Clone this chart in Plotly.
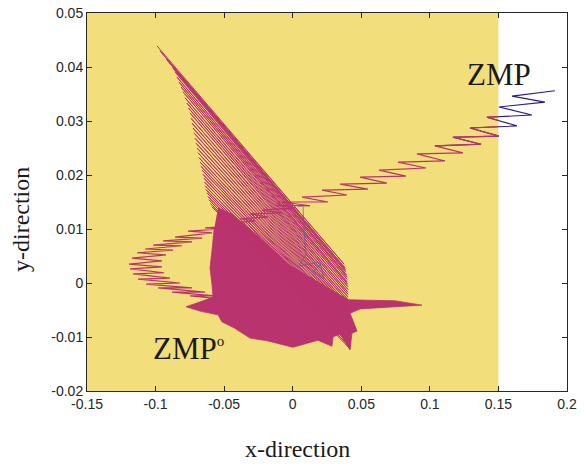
import plotly.graph_objects as go

# ---------------- data ----------------
# support polygon (yellow)
support_x = [-0.15, 0.15, 0.15, -0.15]
support_y = [-0.02, -0.02, 0.05, 0.05]

# main ZMP zigzag trajectory (from inside the dense area, around the C loop, out to upper right)
zmp_x = [-0.0457, -0.0749, -0.0566, -0.0880, -0.0639, -0.0982, -0.0734, -0.1069, -0.0822,
         -0.1128, -0.0895, -0.1164, -0.0938, -0.1186, -0.0953, -0.1193, -0.0953, -0.1172,
         -0.0924, -0.1135, -0.0873, -0.1077, -0.0807, -0.1018, -0.0734, -0.0946, -0.0661,
         -0.0858, -0.0588, -0.0763, -0.0515, -0.0639, -0.0384, -0.0515, -0.0275, -0.0384,
         -0.0180, -0.0311, -0.0071, -0.0224, 0.0017, -0.0122, 0.0126, -0.0071, 0.0257,
         0.0068, 0.0396, 0.0214, 0.0549, 0.0345, 0.0687, 0.0491, 0.0826, 0.0629, 0.0972,
         0.0768, 0.1110, 0.0906, 0.1241, 0.1037, 0.1373, 0.1168, 0.1504, 0.1293, 0.1635,
         0.1416, 0.1744, 0.1504, 0.1839, 0.1599, 0.1912]
zmp_y = [-0.0031, -0.0024, -0.0024, -0.0017, -0.0017, -0.0009, -0.0009, -0.0002, 0.0000,
         0.0007, 0.0009, 0.0017, 0.0019, 0.0026, 0.0030, 0.0035, 0.0041, 0.0046,
         0.0052, 0.0056, 0.0061, 0.0063, 0.0069, 0.0070, 0.0076, 0.0078, 0.0083,
         0.0085, 0.0093, 0.0096, 0.0100, 0.0102, 0.0106, 0.0109, 0.0115, 0.0119,
         0.0122, 0.0128, 0.0130, 0.0135, 0.0139, 0.0144, 0.0143, 0.0150, 0.0150,
         0.0159, 0.0163, 0.0172, 0.0174, 0.0183, 0.0185, 0.0196, 0.0198, 0.0209, 0.0213,
         0.0224, 0.0226, 0.0239, 0.0241, 0.0254, 0.0257, 0.0270, 0.0272, 0.0287, 0.0291,
         0.0307, 0.0311, 0.0326, 0.0335, 0.0346, 0.0356]

# fan of long strokes (alternating upper-left and lower-right turning points)
fan_left_x = [-0.0989, -0.0968, -0.0946, -0.0920, -0.0895, -0.0876, -0.0858, -0.0843, -0.0829,
              -0.0814, -0.0800, -0.0785, -0.0771, -0.0760, -0.0749, -0.0741, -0.0734, -0.0727,
              -0.0720, -0.0712, -0.0705, -0.0698, -0.0690, -0.0683, -0.0676, -0.0668, -0.0661,
              -0.0654, -0.0647, -0.0643, -0.0639, -0.0632, -0.0625, -0.0617, -0.0610, -0.0599, -0.0588]
fan_left_y = [0.0439, 0.0430, 0.0422, 0.0414, 0.0407, 0.0399, 0.0391, 0.0381, 0.0372,
              0.0363, 0.0354, 0.0343, 0.0333, 0.0324, 0.0315, 0.0305, 0.0296, 0.0287,
              0.0278, 0.0268, 0.0259, 0.0250, 0.0241, 0.0232, 0.0224, 0.0216, 0.0209,
              0.0201, 0.0194, 0.0187, 0.0180, 0.0173, 0.0167, 0.0160, 0.0154, 0.0147, 0.0141]
fan_right_x = [0.0374, 0.0378, 0.0381, 0.0385, 0.0389, 0.0392, 0.0396, 0.0396, 0.0396,
               0.0400, 0.0403, 0.0403, 0.0403, 0.0403, 0.0403, 0.0403, 0.0403, 0.0403,
               0.0403, 0.0407, 0.0410, 0.0410, 0.0410, 0.0410, 0.0410, 0.0414, 0.0418,
               0.0418, 0.0418, 0.0418, 0.0418, 0.0418, 0.0418, 0.0418, 0.0418, 0.0418, 0.0418]
fan_right_y = [0.0035, 0.0031, 0.0028, 0.0024, 0.0020, 0.0015, 0.0011, 0.0007, 0.0002,
               -0.0002, -0.0007, -0.0012, -0.0017, -0.0021, -0.0026, -0.0031, -0.0035, -0.0040,
               -0.0044, -0.0049, -0.0054, -0.0058, -0.0063, -0.0068, -0.0072, -0.0077, -0.0081,
               -0.0086, -0.0091, -0.0095, -0.0100, -0.0104, -0.0107, -0.0111, -0.0115, -0.0119, -0.0122]

# outline of the densely filled region
dense_x = [-0.0545, -0.0443, -0.0253, -0.0020, 0.0199, 0.0403, 0.0746, 0.0942, 0.0746, 0.0491,
           0.0418, 0.0469, 0.0432, 0.0418, 0.0345, 0.0294, 0.0286, 0.0184, 0.0002, -0.0187,
           -0.0311, -0.0428, -0.0515, -0.0545, -0.0676, -0.0778, -0.0676, -0.0581, -0.0588,
           -0.0603, -0.0588, -0.0574]
dense_y = [0.0139, 0.0128, 0.0087, 0.0033, 0.0000, -0.0031, -0.0033, -0.0041, -0.0044, -0.0048,
           -0.0056, -0.0089, -0.0093, -0.0124, -0.0094, -0.0100, -0.0117, -0.0106, -0.0119, -0.0107,
           -0.0102, -0.0083, -0.0072, -0.0059, -0.0052, -0.0044, -0.0035, -0.0026, -0.0004,
           0.0028, 0.0061, 0.0098]

# reference ZMP (thin navy path)
ref_x = [0.0040, 0.0075, 0.0082, 0.0097, 0.0039, 0.0199, 0.0228, 0.0141, 0.0206]
ref_y = [0.0141, 0.0144, 0.0098, 0.0052, 0.0031, 0.0039, 0.0007, 0.0020, 0.0035]

x_ticks = [-0.15, -0.1, -0.05, 0, 0.05, 0.1, 0.15, 0.2]
x_ticklabels = ["-0.15", "-0.1", "-0.05", "0", "0.05", "0.1", "0.15", "0.2"]
y_ticks = [-0.02, -0.01, 0, 0.01, 0.02, 0.03, 0.04, 0.05]
y_ticklabels = ["-0.02", "-0.01", "0", "0.01", "0.02", "0.03", "0.04", "0.05"]

# ---------------- styling ----------------
YELLOW = "#F2DE7A"
MAGENTA = "#B9336E"
NAVY = "#2E1A87"
REFNAVY = "#5A5A9E"
SERIF = "Liberation Serif, Times New Roman, serif"

fan_x, fan_y = [], []
for i in range(len(fan_left_x)):
    fan_x += [fan_left_x[i], fan_right_x[i]]
    fan_y += [fan_left_y[i], fan_right_y[i]]

fig = go.Figure()
fig.add_trace(go.Scatter(x=support_x, y=support_y, fill="toself", fillcolor=YELLOW,
                         line=dict(width=0, color=YELLOW), mode="lines",
                         xaxis="x", yaxis="y", hoverinfo="skip"))
fig.add_trace(go.Scatter(x=zmp_x[-12:], y=zmp_y[-12:], mode="lines",
                         line=dict(color=NAVY, width=1.1), xaxis="x", yaxis="y"))
fig.add_trace(go.Scatter(x=dense_x, y=dense_y, fill="toself", fillcolor=MAGENTA,
                         line=dict(width=0.8, color=MAGENTA), mode="lines",
                         xaxis="x2", yaxis="y"))
fig.add_trace(go.Scatter(x=fan_x, y=fan_y, mode="lines",
                         line=dict(color=MAGENTA, width=1.0), xaxis="x2", yaxis="y"))
fig.add_trace(go.Scatter(x=zmp_x, y=zmp_y, mode="lines",
                         line=dict(color=MAGENTA, width=1.2), xaxis="x2", yaxis="y"))
fig.add_trace(go.Scatter(x=ref_x, y=ref_y, mode="lines",
                         line=dict(color=REFNAVY, width=0.7), xaxis="x2", yaxis="y"))

axis_common = dict(showgrid=False, zeroline=False, showline=True, linecolor="#262626",
                   linewidth=1, mirror="ticks", ticks="inside", ticklen=5, tickcolor="#262626",
                   automargin=False,
                   tickfont=dict(family="Liberation Sans, Arial", size=14, color="#262626"))

pw, ph = 587 - 87 - 20, 464 - 13 - 73

fig.update_layout(
    width=587, height=464,
    margin=dict(l=87, r=20, t=13, b=73),
    paper_bgcolor="white", plot_bgcolor="rgba(0,0,0,0)",
    showlegend=False,
    xaxis=dict(range=[-0.15, 0.2], domain=[0, 1], tickvals=x_ticks, ticktext=x_ticklabels,
               anchor="y", **axis_common),
    xaxis2=dict(range=[-0.15, 0.15], domain=[0, 300 / 350], visible=False, anchor="y",
                showgrid=False, zeroline=False),
    yaxis=dict(range=[-0.02, 0.05], domain=[0, 1], tickvals=y_ticks, ticktext=y_ticklabels,
               anchor="x", **axis_common),
    annotations=[
        dict(text="ZMP", x=0.1257, y=0.0387, xref="x", yref="y", xanchor="left", yanchor="middle",
             showarrow=False, font=dict(family=SERIF, size=31, color="#1a1a1a")),
        dict(text="ZMP<sup><span style='font-size:15px'>o</span></sup>", x=-0.1033, y=-0.0122,
             xref="x", yref="y", xanchor="left", yanchor="middle", showarrow=False,
             font=dict(family=SERIF, size=31, color="#1a1a1a")),
        dict(text="x-direction", x=(297 - 87) / pw, y=(391 - 449) / ph, xref="paper", yref="paper",
             showarrow=False, xanchor="center", yanchor="middle",
             font=dict(family=SERIF, size=24, color="#1a1a1a")),
        dict(text="y-direction", x=(21 - 87) / pw, y=(391 - 220) / ph, xref="paper", yref="paper",
             showarrow=False, textangle=-90, xanchor="center", yanchor="middle",
             font=dict(family=SERIF, size=24, color="#1a1a1a")),
    ],
)

fig.write_html("out.html")
